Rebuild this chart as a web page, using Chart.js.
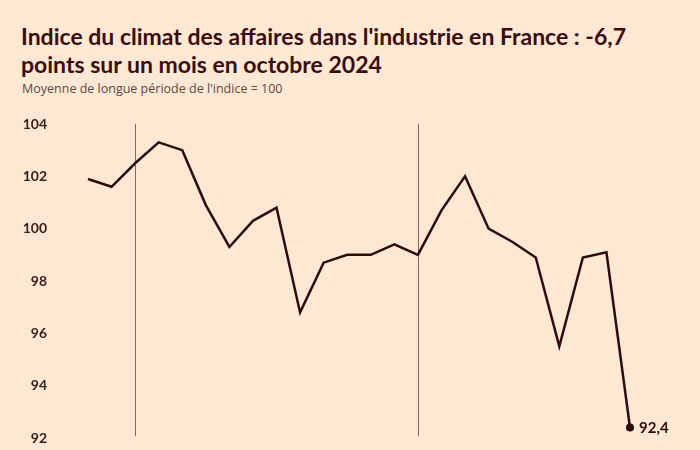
<!DOCTYPE html>
<html>
<head>
<meta charset="utf-8">
<script src="https://cdn.jsdelivr.net/npm/chart.js@4"></script>
<style>
  html, body { margin: 0; padding: 0; background: #fde8d3; }
  #wrap { position: relative; width: 700px; height: 450px; overflow: hidden; }
  #title { position: absolute; left: 21px; top: 22px; width: 679px; font: bold 23px Lato, sans-serif; line-height: 28px; color: #3c0d10; white-space: nowrap; }
  #sub { position: absolute; left: 22px; top: 80px; font: 12.5px "Open Sans", sans-serif; color: #5a4a44; }
  canvas { position: absolute; left: 0; top: 0; }
</style>
</head>
<body>
<div id="wrap">
  <div id="title">Indice du climat des affaires dans l'industrie en France : -6,7<br>points sur un mois en octobre 2024</div>
  <div id="sub">Moyenne de longue période de l'indice = 100</div>
  <canvas id="chart" width="700" height="450"></canvas>
</div>
<script>
const months = ['nov. 2022', 'déc. 2022', 'janv. 2023', 'févr. 2023', 'mars 2023', 'avr. 2023',
  'mai 2023', 'juin 2023', 'juil. 2023', 'août 2023', 'sept. 2023', 'oct. 2023', 'nov. 2023',
  'déc. 2023', 'janv. 2024', 'févr. 2024', 'mars 2024', 'avr. 2024', 'mai 2024', 'juin 2024',
  'juil. 2024', 'août 2024', 'sept. 2024', 'oct. 2024'];
const indice = [101.9, 101.6, 102.5, 103.3, 103.0, 100.9, 99.3, 100.3, 100.8, 96.8, 98.7, 99.0,
  99.0, 99.4, 99.0, 100.7, 102.0, 100.0, 99.5, 98.9, 95.5, 98.9, 99.1, 92.4];
const yearMarks = ['janv. 2023', 'janv. 2024'];
const yTicks = [92, 94, 96, 98, 100, 102, 104];

const dark = '#2e0b0c';

// lignes verticales aux changements d'année + étiquette du dernier point
const extras = {
  id: 'extras',
  beforeDatasetsDraw(chart) {
    const ctx = chart.ctx, x = chart.scales.x, y = chart.scales.y;
    ctx.save();
    ctx.strokeStyle = '#7d6a60';
    ctx.lineWidth = 1;
    yearMarks.forEach(m => {
      const px = Math.round(x.getPixelForValue(months.indexOf(m))) + 0.5;
      ctx.beginPath();
      ctx.moveTo(px, y.getPixelForValue(104));
      ctx.lineTo(px, y.getPixelForValue(92) - 2);
      ctx.stroke();
    });
    ctx.restore();
  },
  afterDatasetsDraw(chart) {
    const ctx = chart.ctx;
    const pts = chart.getDatasetMeta(0).data;
    const last = pts[pts.length - 1];
    ctx.save();
    ctx.fillStyle = dark;
    ctx.font = 'bold 15px Lato, sans-serif';
    ctx.textBaseline = 'middle';
    ctx.fillText(String(indice[indice.length - 1]).replace('.', ','), last.x + 9, last.y + 1);
    ctx.restore();
  }
};

new Chart(document.getElementById('chart'), {
  type: 'line',
  data: {
    labels: months,
    datasets: [{
      data: indice,
      borderColor: dark,
      borderWidth: 2.5,
      tension: 0,
      pointRadius: ctx => ctx.dataIndex === indice.length - 1 ? 4 : 0,
      pointBackgroundColor: dark,
      pointBorderWidth: 0
    }]
  },
  options: {
    responsive: false,
    animation: false,
    layout: { padding: { top: 124, right: 70, bottom: 12, left: 0 } },
    plugins: { legend: { display: false }, tooltip: { enabled: false }, title: { display: false } },
    scales: {
      x: { display: false, offset: false },
      y: {
        min: 92, max: 104,
        // largeur fixe; la marge des étiquettes ne doit pas réduire la hauteur
        afterFit: s => { s.width = 88; s.paddingTop = 0; s.paddingBottom = 0; },
        afterBuildTicks: s => { s.ticks = yTicks.map(v => ({ value: v })); },
        grid: { display: false, drawTicks: false },
        border: { display: false },
        ticks: { padding: 41, color: '#3a1a1a', font: { family: 'Lato', weight: 'bold', size: 14 } }
      }
    }
  },
  plugins: [extras]
});
</script>
</body>
</html>
